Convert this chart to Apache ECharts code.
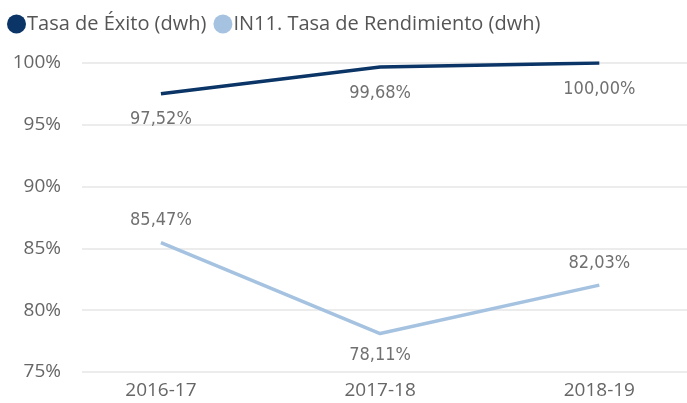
<!DOCTYPE html>
<html>
<head>
<meta charset="utf-8">
<script src="https://cdn.jsdelivr.net/npm/echarts@6/dist/echarts.min.js"></script>
<style>
  html, body { margin: 0; padding: 0; background: #fff; }
  #chart { width: 687px; height: 403px; }
</style>
</head>
<body>
<div id="chart"></div>
<script>
const categories = ["2016-17", "2017-18", "2018-19"];
const exitoValues = [97.52, 99.68, 100.0];
const rendimientoValues = [85.47, 78.11, 82.03];
const yTicks = [75, 80, 85, 90, 95, 100];
// label side for the light series (Power BI puts the low point's label below)
const rendimientoLabelPos = ["top", "bottom", "top"];

const chart = echarts.init(document.getElementById("chart"));
const labelFont = "'DejaVu Sans Condensed', 'Liberation Sans Narrow', sans-serif";
const textFont = "'Open Sans', 'Noto Sans', sans-serif";
const fmt = (v) => v.toFixed(2).replace(".", ",") + "%";

const toPoints = (vals) => vals.map((v, i) => [i, v]);

chart.setOption({
  animation: false,
  legend: {
    left: 2,
    top: 9,
    itemGap: 7,
    itemWidth: 19,
    itemHeight: 19,
    icon: "circle",
    textStyle: { color: "#555", fontSize: 20, fontFamily: textFont, padding: [0, 0, 0, -4] },
    data: ["Tasa de Éxito (dwh)", "IN11. Tasa de Rendimiento (dwh)"],
  },
  grid: { left: 82, right: 0, top: 63, bottom: 31 },
  xAxis: {
    type: "value",
    min: -0.36,
    max: 2.4,
    axisLine: { show: false },
    axisTick: { show: false },
    splitLine: { show: false },
    axisLabel: {
      customValues: [0, 1, 2],
      formatter: (v) => categories[Math.round(v)],
      color: "#666",
      fontSize: 19,
      fontFamily: textFont,
      margin: 9,
    },
  },
  yAxis: {
    type: "value",
    min: 75,
    max: 100,
    interval: 5,
    axisLine: { show: false },
    axisTick: { show: false },
    axisLabel: {
      formatter: (v) => (yTicks.includes(v) ? v + "%" : ""),
      color: "#666",
      fontSize: 19,
      fontFamily: textFont,
      margin: 21,
    },
    splitLine: { lineStyle: { color: "#e6e6e6", width: 1.5 } },
  },
  series: [
    {
      name: "Tasa de Éxito (dwh)",
      type: "line",
      data: toPoints(exitoValues),
      color: "#0b3566",
      symbol: "circle",
      symbolSize: 0,
      lineStyle: { width: 3.5, color: "#0b3566" },
      label: {
        show: true,
        position: "bottom",
        distance: 17,
        formatter: (p) => fmt(p.value[1]),
        color: "#707070",
        fontSize: 18,
        fontFamily: labelFont,
      },
    },
    {
      name: "IN11. Tasa de Rendimiento (dwh)",
      type: "line",
      data: rendimientoValues.map((v, i) => ({
        value: [i, v],
        label: { position: rendimientoLabelPos[i] },
      })),
      color: "#a5c3e0",
      symbol: "circle",
      symbolSize: 0,
      lineStyle: { width: 3.5, color: "#a5c3e0" },
      label: {
        show: true,
        position: "top",
        distance: 13,
        formatter: (p) => fmt(p.value[1]),
        color: "#707070",
        fontSize: 18,
        fontFamily: labelFont,
      },
    },
  ],
});
</script>
</body>
</html>
